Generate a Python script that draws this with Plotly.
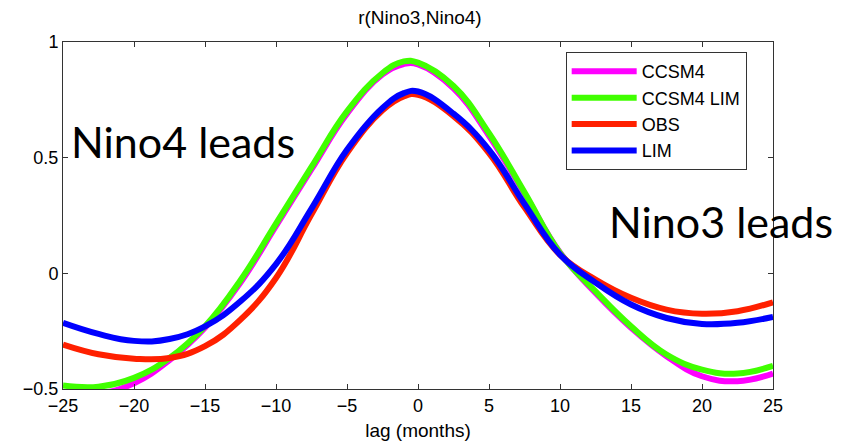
import plotly.graph_objects as go

lags = [-25, -22.5, -20, -17.5, -15, -12.5, -10, -7.5, -5, -2.5, -1, 0,
        2.5, 5, 7.5, 10, 12.5, 15, 17.5, 20, 22.5, 25]

ccsm4 = [-0.52, -0.52, -0.475, -0.375, -0.235, -0.04, 0.205, 0.45, 0.69, 0.86, 0.905, 0.903,
         0.80, 0.595, 0.345, 0.09, -0.085, -0.235, -0.358, -0.445, -0.466, -0.433]
ccsm4_lim = [-0.485, -0.49, -0.452, -0.366, -0.229, -0.03, 0.215, 0.46, 0.70, 0.866, 0.916, 0.911,
             0.81, 0.606, 0.35, 0.088, -0.078, -0.229, -0.351, -0.416, -0.433, -0.40]
obs = [-0.308, -0.35, -0.369, -0.366, -0.315, -0.20, -0.02, 0.255, 0.52, 0.705, 0.765, 0.772,
       0.68, 0.52, 0.285, 0.08, -0.027, -0.106, -0.157, -0.175, -0.164, -0.125]
lim = [-0.214, -0.262, -0.292, -0.284, -0.229, -0.121, 0.04, 0.28, 0.534, 0.715, 0.779, 0.786,
       0.69, 0.534, 0.30, 0.081, -0.04, -0.135, -0.193, -0.219, -0.214, -0.188]

series = [
    ("CCSM4", ccsm4, "#FF00FF"),
    ("CCSM4 LIM", ccsm4_lim, "#40FF00"),
    ("OBS", obs, "#FF2000"),
    ("LIM", lim, "#0000FF"),
]

xticks = [-25, -20, -15, -10, -5, 0, 5, 10, 15, 20, 25]
xticktext = ["\u221225", "\u221220", "\u221215", "\u221210", "\u22125", "0", "5", "10", "15", "20", "25"]
yticks = [-0.5, 0, 0.5, 1]
yticktext = ["\u22120.5", "0", "0.5", "1"]

fig = go.Figure()
for name, vals, col in series:
    fig.add_trace(go.Scatter(x=lags, y=vals, name=name, mode="lines",
                             line=dict(color=col, width=6, shape="spline", smoothing=1.2)))

axis_common = dict(showline=True, linecolor="#333333", linewidth=1, mirror="ticks",
                   ticks="inside", ticklen=5, tickcolor="#333333", showgrid=False,
                   zeroline=False, automargin=False,
                   tickfont=dict(family="Liberation Sans", size=18, color="black"))

fig.update_xaxes(range=[-25, 25], tickvals=xticks, ticktext=xticktext,
                 title=dict(text="lag (months)", font=dict(family="Liberation Sans", size=19, color="black"),
                            standoff=9),
                 **axis_common)
fig.update_yaxes(range=[-0.5, 1], tickvals=yticks, ticktext=yticktext, **axis_common)

fig.add_annotation(text="Nino4 leads", xref="paper", yref="paper", x=0.008, y=0.712,
                   xanchor="left", yanchor="middle", showarrow=False,
                   font=dict(family="Lato", size=43, color="black"))
fig.add_annotation(text="Nino3 leads", xref="paper", yref="paper", x=0.766, y=0.484,
                   xanchor="left", yanchor="middle", showarrow=False,
                   font=dict(family="Lato", size=43, color="black"))

fig.update_layout(
    width=850, height=446,
    margin=dict(l=63, r=77, t=42, b=57),
    paper_bgcolor="white", plot_bgcolor="white",
    title=dict(text="r(Nino3,Nino4)", x=0.494, xanchor="center", y=0.962, yanchor="middle",
               font=dict(family="Liberation Sans", size=19, color="black")),
    legend=dict(x=0.708, y=0.971, xanchor="left", yanchor="top", bgcolor="white",
                bordercolor="#333333", borderwidth=1, itemwidth=65,
                font=dict(family="Liberation Sans", size=18, color="black"),
                tracegroupgap=0),
    showlegend=True,
)

fig.write_html("out.html")
